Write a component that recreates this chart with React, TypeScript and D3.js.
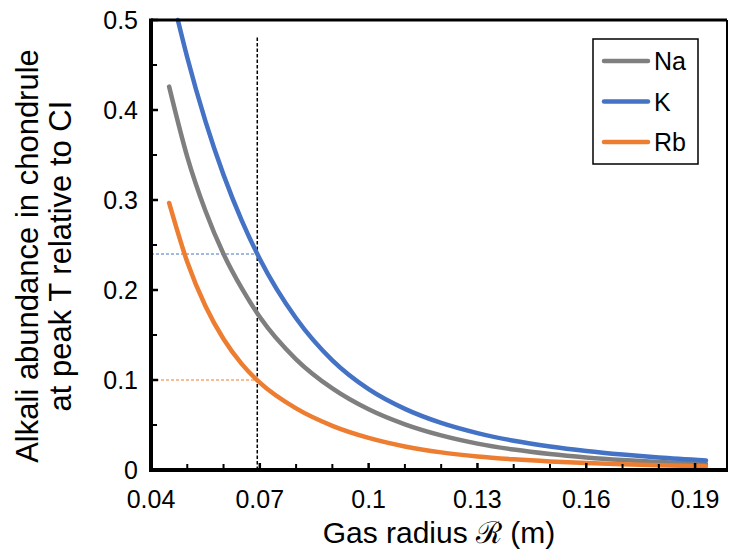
import React, { useEffect, useRef } from "react";
import * as d3 from "d3";

const radius = [0.045, 0.05, 0.055, 0.06, 0.065, 0.07, 0.08, 0.09, 0.1, 0.11, 0.12, 0.13, 0.14, 0.15, 0.16, 0.17, 0.18, 0.193];
const naValues = [0.426, 0.348, 0.288, 0.24, 0.202, 0.17, 0.123, 0.0906, 0.0674, 0.0507, 0.0384, 0.0293, 0.0227, 0.0177, 0.0139, 0.011, 0.0088, 0.0066];
const rbValues = [0.2967, 0.2311, 0.1822, 0.1455, 0.1179, 0.097, 0.0684, 0.0491, 0.0357, 0.0262, 0.0196, 0.0151, 0.0119, 0.0095, 0.0077, 0.0063, 0.0052, 0.0041];
const kRadius = [0.0474, 0.05, 0.055, 0.06, 0.065, 0.07, 0.08, 0.09, 0.1, 0.11, 0.12, 0.13, 0.14, 0.15, 0.16, 0.17, 0.18, 0.193];
const kValues = [0.5, 0.4583, 0.3876, 0.3279, 0.2773, 0.2345, 0.1686, 0.1218, 0.0898, 0.0679, 0.0523, 0.041, 0.0325, 0.0261, 0.0211, 0.0171, 0.0138, 0.0105];

const seriesNames = ["Na", "K", "Rb"];
const seriesColors = ["#7f7f7f", "#4472c4", "#ed7d31"];

const xMajorTicks = [0.04, 0.07, 0.1, 0.13, 0.16, 0.19];
const xMinorTicks = [0.05, 0.06, 0.08, 0.09, 0.11, 0.12, 0.14, 0.15, 0.17, 0.18];
const yMajorTicks = [0, 0.1, 0.2, 0.3, 0.4, 0.5];
const yMinorTicks = [0.05, 0.15, 0.25, 0.35, 0.45];

const markerRadius = 0.0693;
const markerK = 0.24;
const markerRb = 0.1;
const markerTop = 0.482;

const FONT = "'Liberation Sans', Arial, Helvetica, sans-serif";

export default function App() {
  const ref = useRef<SVGSVGElement>(null);

  useEffect(() => {
    const svg = d3.select(ref.current);
    svg.selectAll("*").remove();

    const left = 151, right = 727, top = 20, bottom = 470;
    const x = d3.scaleLinear().domain([0.04, 0.1988]).range([left, right]);
    const y = d3.scaleLinear().domain([0, 0.5]).range([bottom, top]);

    const series = [
      { r: radius, v: naValues },
      { r: kRadius, v: kValues },
      { r: radius, v: rbValues },
    ];

    // guide lines
    svg.append("line")
      .attr("x1", left).attr("x2", x(markerRadius))
      .attr("y1", y(markerK)).attr("y2", y(markerK))
      .attr("stroke", seriesColors[1]).attr("stroke-width", 1)
      .attr("stroke-dasharray", "3,2");
    svg.append("line")
      .attr("x1", left).attr("x2", x(markerRadius))
      .attr("y1", y(markerRb)).attr("y2", y(markerRb))
      .attr("stroke", seriesColors[2]).attr("stroke-width", 1)
      .attr("stroke-dasharray", "3,2");
    svg.append("line")
      .attr("x1", x(markerRadius)).attr("x2", x(markerRadius))
      .attr("y1", y(0)).attr("y2", y(markerTop))
      .attr("stroke", "#000").attr("stroke-width", 1.5)
      .attr("stroke-dasharray", "3.5,2");

    const line = d3.line<[number, number]>()
      .x(d => x(d[0]))
      .y(d => y(d[1]))
      .curve(d3.curveMonotoneX);

    series.forEach((s, i) => {
      const pts: [number, number][] = s.r.map((r, j) => [r, s.v[j]]);
      svg.append("path")
        .attr("d", line(pts))
        .attr("fill", "none")
        .attr("stroke", seriesColors[i])
        .attr("stroke-width", 4.5)
        .attr("stroke-linecap", "round");
    });

    // frame
    svg.append("line").attr("x1", left).attr("x2", right).attr("y1", top).attr("y2", top)
      .attr("stroke", "#000").attr("stroke-width", 3);
    svg.append("line").attr("x1", right).attr("x2", right).attr("y1", top).attr("y2", bottom)
      .attr("stroke", "#000").attr("stroke-width", 2);

    // ticks
    const tick = (x1: number, y1: number, x2: number, y2: number, w: number) =>
      svg.append("line").attr("x1", x1).attr("y1", y1).attr("x2", x2).attr("y2", y2)
        .attr("stroke", "#000").attr("stroke-width", w);
    xMajorTicks.forEach(t => tick(x(t), bottom, x(t), bottom - 7, 2.5));
    xMinorTicks.forEach(t => tick(x(t), bottom, x(t), bottom - 6, 2));
    yMajorTicks.forEach(t => tick(left, y(t), left + 7, y(t), 2.5));
    yMinorTicks.forEach(t => tick(left, y(t), left + 6, y(t), 2));

    svg.append("line").attr("x1", left).attr("x2", left).attr("y1", top - 1.5).attr("y2", bottom + 2)
      .attr("stroke", "#000").attr("stroke-width", 4);
    svg.append("line").attr("x1", left - 2).attr("x2", right + 1).attr("y1", bottom).attr("y2", bottom)
      .attr("stroke", "#000").attr("stroke-width", 4);

    // tick labels
    svg.append("g").selectAll("text").data(xMajorTicks).join("text")
      .attr("x", d => x(d)).attr("y", 508)
      .attr("text-anchor", "middle")
      .attr("font-family", FONT).attr("font-size", 25)
      .text(d => String(d));
    svg.append("g").selectAll("text").data(yMajorTicks).join("text")
      .attr("x", 138).attr("y", d => y(d) + 9)
      .attr("text-anchor", "end")
      .attr("font-family", FONT).attr("font-size", 25)
      .text(d => String(d));

    // axis titles
    svg.append("text")
      .attr("x", 439).attr("y", 543)
      .attr("text-anchor", "middle")
      .attr("font-family", FONT).attr("font-size", 30)
      .text("Gas radius \u211B (m)");
    const yt = svg.append("text")
      .attr("transform", "translate(0,256) rotate(-90)")
      .attr("text-anchor", "middle")
      .attr("font-family", FONT).attr("font-size", 31);
    yt.append("tspan").attr("x", 0).attr("y", 38).text("Alkali abundance in chondrule");
    yt.append("tspan").attr("x", 0).attr("y", 71).text("at peak T relative to CI");

    // legend
    const lg = svg.append("g");
    lg.append("rect").attr("x", 593).attr("y", 39).attr("width", 105).attr("height", 125)
      .attr("fill", "#fff").attr("stroke", "#000").attr("stroke-width", 1.5);
    seriesNames.forEach((n, i) => {
      const ly = 61 + i * 40.5;
      lg.append("line").attr("x1", 604).attr("x2", 648).attr("y1", ly).attr("y2", ly)
        .attr("stroke", seriesColors[i]).attr("stroke-width", 4.5).attr("stroke-linecap", "round");
      lg.append("text").attr("x", 654).attr("y", ly + 9)
        .attr("font-family", FONT).attr("font-size", 25).text(n);
    });
  }, []);

  return (
    <svg ref={ref} width={730} height={554}
      style={{ position: "absolute", left: 0, top: 0, background: "#fff" }} />
  );
}
